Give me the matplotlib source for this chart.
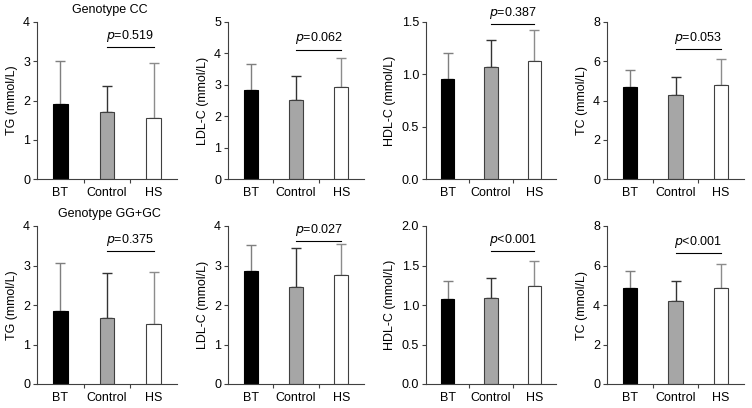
import numpy as np
import matplotlib
matplotlib.use("Agg")
import matplotlib.pyplot as plt

plt.rcParams['font.family'] = ['Liberation Sans', 'DejaVu Sans']

groups = ["BT", "Control", "HS"]
bar_colors = ["#000000", "#a6a6a6", "#ffffff"]
err_colors = ["#7f7f7f", "#333333", "#8c8c8c"]

# top row: genotype CC
cc_tg = [1.92, 1.70, 1.55]
cc_tg_sd = [1.09, 0.67, 1.41]
cc_ldl = [2.83, 2.52, 2.93]
cc_ldl_sd = [0.82, 0.75, 0.91]
cc_hdl = [0.96, 1.07, 1.13]
cc_hdl_sd = [0.24, 0.26, 0.29]
cc_tc = [4.70, 4.30, 4.80]
cc_tc_sd = [0.85, 0.90, 1.33]
cc_p = ["=0.519", "=0.062", "=0.387", "=0.053"]

# bottom row: genotype GG+GC
gg_tg = [1.86, 1.68, 1.53]
gg_tg_sd = [1.20, 1.13, 1.31]
gg_ldl = [2.86, 2.45, 2.77]
gg_ldl_sd = [0.67, 0.99, 0.78]
gg_hdl = [1.07, 1.09, 1.24]
gg_hdl_sd = [0.24, 0.25, 0.32]
gg_tc = [4.87, 4.20, 4.87]
gg_tc_sd = [0.83, 1.00, 1.21]
gg_p = ["=0.375", "=0.027", "<0.001", "<0.001"]

labels = ["TG (mmol/L)", "LDL-C (mmol/L)", "HDL-C (mmol/L)", "TC (mmol/L)"]
ylims_top = [4, 5, 1.5, 8]
ylims_bot = [4, 4, 2.0, 8]
ystep_top = [1, 1, 0.5, 2]
ystep_bot = [1, 1, 0.5, 2]
bracket_top = [3.36, 4.12, 1.48, 6.62]
bracket_bot = [3.36, 3.62, 1.68, 6.65]
titles = ["Genotype CC", "Genotype GG+GC"]

rows = [
    (list(zip([cc_tg, cc_ldl, cc_hdl, cc_tc], [cc_tg_sd, cc_ldl_sd, cc_hdl_sd, cc_tc_sd])), cc_p, ylims_top, ystep_top, bracket_top),
    (list(zip([gg_tg, gg_ldl, gg_hdl, gg_tc], [gg_tg_sd, gg_ldl_sd, gg_hdl_sd, gg_tc_sd])), gg_p, ylims_bot, ystep_bot, bracket_bot),
]

W, H = 752, 408
fig = plt.figure(figsize=(W / 100, H / 100), dpi=100)

lefts = [37, 228, 426, 607]
rights = [177, 364, 556, 744]
tops = [22, 226]
bottoms = [179, 384]
fs = 9
spine_c = "#404040"

x = np.arange(3)
for r, (data, ps, ylims, ysteps, brackets) in enumerate(rows):
    for c in range(4):
        ax = fig.add_axes([lefts[c] / W, 1 - bottoms[r] / H,
                           (rights[c] - lefts[c]) / W, (bottoms[r] - tops[r]) / H])
        vals, sds = data[c]
        for i in range(3):
            ax.bar(x[i], vals[i], width=0.31, color=bar_colors[i],
                   edgecolor="#000000" if i == 0 else "#404040", linewidth=0.8, zorder=2)
            ax.errorbar(x[i], vals[i], yerr=[[0], [sds[i]]], fmt="none",
                        ecolor=err_colors[i], elinewidth=1.0, capsize=3.5, capthick=1.0, zorder=1)
        ax.set_xlim(-0.5, 2.5)
        ax.set_ylim(0, ylims[c])
        ax.set_yticks(np.arange(0, ylims[c] + 1e-9, ysteps[c]))
        if ysteps[c] < 1:
            ax.set_yticklabels([f"{v:.1f}" for v in np.arange(0, ylims[c] + 1e-9, ysteps[c])])
        ax.set_xticks(x)
        ax.set_xticklabels(groups)
        ax.set_xticks([0.5, 1.5], minor=True)
        ax.tick_params(axis="x", which="major", length=0, pad=6, labelsize=fs)
        ax.tick_params(axis="x", which="minor", length=3, color=spine_c, width=0.8)
        ax.tick_params(axis="y", length=3, color=spine_c, width=0.8, labelsize=fs, pad=2)
        for s in ["top", "right"]:
            ax.spines[s].set_visible(False)
        for s in ["left", "bottom"]:
            ax.spines[s].set_color(spine_c)
            ax.spines[s].set_linewidth(0.8)
        ax.set_ylabel(labels[c], fontsize=fs, labelpad=4)
        yb = brackets[c]
        ax.plot([1, 2], [yb, yb], color="#000000", lw=0.8, clip_on=False)
        ax.text(1.5, yb + ylims[c] * 0.02, "$p$" + ps[c], ha="center", va="bottom", fontsize=fs)
        if c == 0:
            ax.text(1.05, ylims[c] * 1.04, titles[r], ha="center", va="bottom", fontsize=fs)

fig.savefig("out.png", dpi=100)
